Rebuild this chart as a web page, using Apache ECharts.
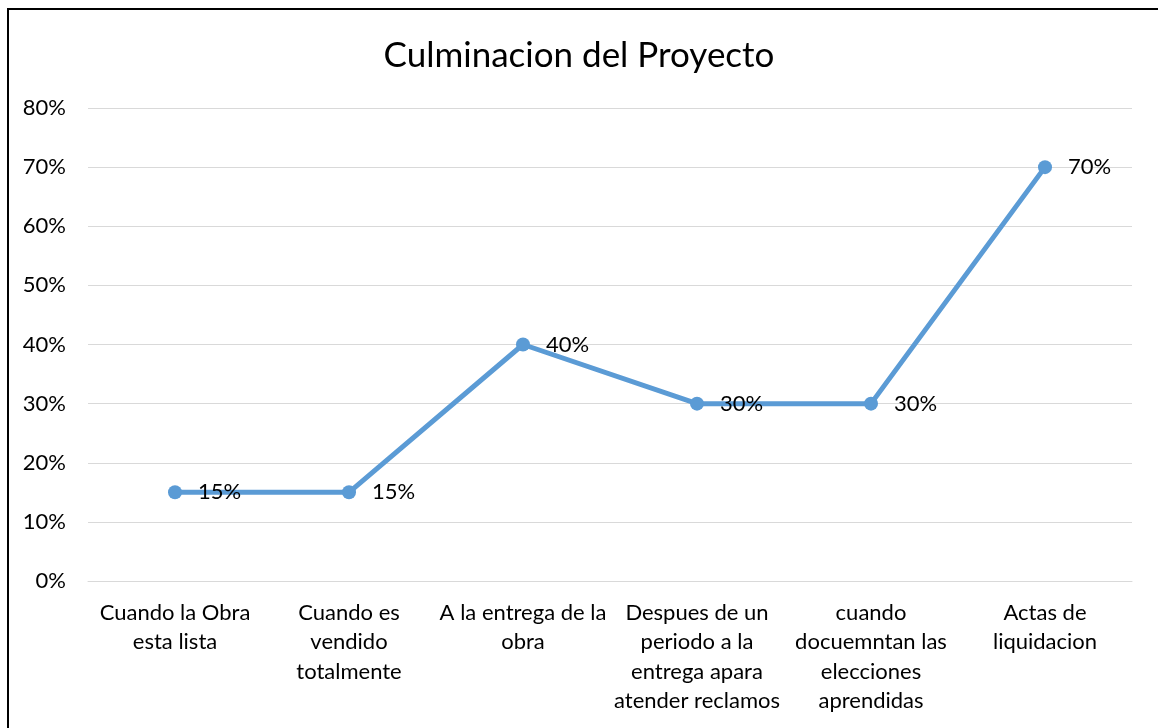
<!DOCTYPE html>
<html>
<head>
<meta charset="utf-8">
<script src="https://cdn.jsdelivr.net/npm/echarts@6/dist/echarts.min.js"></script>
<style>
  html, body { margin: 0; padding: 0; background: #fff; }
  .frame {
    position: absolute; left: 7px; top: 8px;
    width: 1160px; height: 730px;
    border: 2px solid #000; box-sizing: border-box;
  }
  #chart { position: absolute; left: 0; top: 0; width: 1158px; height: 728px; }
</style>
</head>
<body>
<div class="frame"></div>
<div id="chart"></div>
<script>
  // chart data
  const categories = [
    'Cuando la Obra\nesta lista',
    'Cuando es\nvendido\ntotalmente',
    'A la entrega de la\nobra',
    'Despues de un\nperiodo a la\nentrega apara\natender reclamos',
    'cuando\ndocuemntan las\nelecciones\naprendidas',
    'Actas de\nliquidacion'
  ];
  const values = [0.15, 0.15, 0.40, 0.30, 0.30, 0.70];
  const yTicks = [0, 0.1, 0.2, 0.3, 0.4, 0.5, 0.6, 0.7, 0.8];

  const font = 'Lato, "Open Sans", sans-serif';
  const pct = v => Math.round(v * 100) + '%';

  const myChart = echarts.init(document.getElementById('chart'));
  myChart.setOption({
    animation: false,
    title: {
      text: 'Culminacion del Proyecto',
      left: 'center',
      top: 33,
      textStyle: { fontFamily: font, fontSize: 35, fontWeight: 'normal', color: '#000' }
    },
    grid: { left: 88, right: 26, top: 108, bottom: 147 },
    xAxis: {
      type: 'category',
      data: categories,
      boundaryGap: true,
      axisLine: { lineStyle: { color: '#d9d9d9', width: 1 } },
      axisTick: { show: false },
      axisLabel: {
        interval: 0, margin: 17, color: '#000',
        fontFamily: font, fontSize: 22, lineHeight: 29.5
      }
    },
    yAxis: {
      type: 'value',
      min: yTicks[0],
      max: yTicks[yTicks.length - 1],
      interval: 0.1,
      axisLine: { show: false },
      axisTick: { show: false },
      splitLine: { lineStyle: { color: '#d9d9d9', width: 1 } },
      axisLabel: { formatter: pct, margin: 22, color: '#000', fontFamily: font, fontSize: 22 }
    },
    series: [{
      type: 'line',
      data: values,
      symbol: 'circle',
      symbolSize: 14,
      itemStyle: { color: '#5b9bd5' },
      lineStyle: { color: '#5b9bd5', width: 5 },
      label: {
        show: true, position: 'right', distance: 16,
        formatter: p => pct(p.value),
        color: '#000', fontFamily: font, fontSize: 22
      }
    }]
  });
</script>
</body>
</html>
